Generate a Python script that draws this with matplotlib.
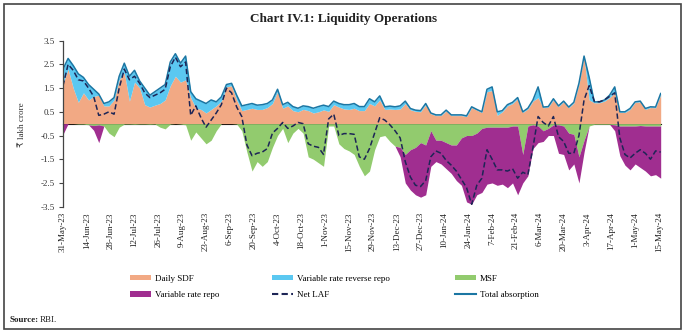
import numpy as np
import pandas as pd
import matplotlib
matplotlib.use("Agg")
import matplotlib.pyplot as plt
import matplotlib.dates as mdates
from matplotlib.patches import Patch, Rectangle
from matplotlib.lines import Line2D

plt.rcParams['font.family'] = ['Liberation Serif', 'DejaVu Sans']

# ---- data (lakh crore), sampled every 3 days from 31-May-2023 ----
start_date = "2023-05-31"
n_points = 118
step_days = 3

daily_sdf = [
    1.7, 2.3, 1.5, 0.9, 1.3, 1.0, 1.15, 1.2, 0.75, 0.75,
    1.0, 1.85, 2.15, 0.95, 1.75, 1.5, 0.8, 0.7, 0.78, 0.85,
    1.0, 1.6, 2.0, 1.75, 1.85, 1.1, 0.65, 0.6, 0.45, 0.6,
    0.75, 0.95, 1.55, 1.6, 1.0, 0.55, 0.6, 0.65, 0.6, 0.6,
    0.68, 0.85, 1.35, 0.65, 0.75, 0.55, 0.5, 0.6, 0.55, 0.45,
    0.5, 0.58, 0.52, 0.8, 0.7, 0.62, 0.6, 0.65, 0.55, 0.55,
    0.85, 0.75, 1.0, 0.6, 0.62, 0.6, 0.62, 0.85, 0.58, 0.52,
    0.5, 0.8, 0.42, 0.34, 0.34, 0.54, 0.34, 0.34, 0.34, 0.3,
    0.68, 0.57, 0.47, 1.35, 1.4, 0.35, 0.5, 0.75, 0.85, 1.05,
    0.47, 0.62, 0.95, 1.1, 0.67, 0.7, 1.0, 0.72, 0.92, 0.67,
    0.87, 1.65, 2.8, 1.0, 0.88, 0.88, 0.95, 1.1, 1.3, 0.47,
    0.47, 0.6, 0.9, 0.92, 0.6, 0.68, 0.67, 1.22]

vrrr = [
    0.6, 0.45, 0.95, 1.2, 0.65, 0.65, 0.3, 0.05, 0.1, 0.17,
    0.1, 0.15, 0.4, 1.05, 0.5, 0.3, 0.7, 0.5, 0.57, 0.65,
    0.65, 1.0, 0.95, 0.8, 1.0, 0.25, 0.4, 0.35, 0.4, 0.4,
    0.17, 0.18, 0.1, 0.1, 0.2, 0.2, 0.2, 0.2, 0.18, 0.2,
    0.17, 0.15, 0.1, 0.15, 0.15, 0.17, 0.15, 0.15, 0.17, 0.2,
    0.22, 0.2, 0.2, 0.15, 0.15, 0.18, 0.2, 0.2, 0.17, 0.17,
    0.2, 0.17, 0.17, 0.11, 0.12, 0.11, 0.13, 0.1, 0.06, 0.05,
    0.05, 0.05, 0.03, 0.03, 0.03, 0.03, 0.03, 0.03, 0.03, 0.03,
    0.03, 0.03, 0.03, 0.1, 0.15, 0.15, 0.05, 0.05, 0.05, 0.05,
    0.03, 0.03, 0.05, 0.45, 0.03, 0.02, 0.05, 0.03, 0.03, 0.03,
    0.03, 0.05, 0.05, 0.95, 0.04, 0.04, 0.05, 0.1, 0.25, 0.03,
    0.03, 0.04, 0.02, 0.03, 0.04, 0.03, 0.03, 0.05]

msf = [
    0, 0, 0, -0.02, -0.02, -0.05, -0.08, -0.05, -0.1, -0.4,
    -0.55, -0.15, -0.02, -0.02, -0.03, -0.02, -0.02, -0.03, -0.02, -0.15,
    -0.22, -0.02, 0, -0.02, -0.05, -0.7, -0.35, -0.6, -0.85, -0.7,
    -0.3, 0, 0, 0, -0.02, -0.3, -1.2, -2.0, -1.6, -1.8,
    -1.6, -1.0, -0.5, -0.2, -0.8, -0.4, -0.2, -0.4, -1.4, -1.5,
    -1.65, -1.8, -0.1, -0.1, -0.85, -1.05, -1.15, -1.3, -1.8, -2.2,
    -2.0, -1.1, -0.55, -0.5, -0.75, -0.95, -1.0, -1.3, -1.1, -1.0,
    -0.8, -0.9, -0.3, -0.7, -0.7, -0.8, -0.9, -0.9, -0.6, -0.5,
    -0.5, -0.4, -0.2, -0.15, -0.15, -0.15, -0.15, -0.15, -0.1, -0.1,
    -1.3, -0.1, -0.05, -0.1, -0.3, -0.2, -0.05, -0.05, -0.1, -0.4,
    -0.45, -1.4, -0.7, -0.1, -0.03, -0.03, -0.03, -0.03, -0.05, -0.1,
    -0.1, -0.1, -0.1, -0.08, -0.1, -0.1, -0.1, -0.1]

vrr = [
    -0.45, 0, 0, 0, 0, 0, -0.2, -0.75, 0, 0,
    0, 0, 0, 0, 0, 0, 0, 0, 0, 0,
    0, 0, 0, 0, 0, 0, 0, 0, 0, 0,
    0, 0, 0, 0, 0, 0, 0, 0, 0, 0,
    0, 0, 0, 0, 0, 0, 0, 0, 0, 0,
    0, 0, 0, 0, 0, 0, 0, 0, 0, 0,
    0, 0, 0, 0, 0, 0, -0.4, -1.2, -1.7, -2.0,
    -2.3, -2.1, -1.5, -0.9, -1.0, -1.1, -1.2, -1.5, -2.0, -2.8,
    -2.9, -2.6, -2.7, -2.4, -2.35, -2.45, -2.4, -2.55, -2.4, -2.9,
    -1.2, -2.1, -1.0, -0.7, -0.45, -0.3, -0.45, -1.2, -1.2, -1.55,
    -1.25, -1.1, -0.5, 0, 0, 0, 0, 0, -0.25, -1.25,
    -1.65, -1.85, -1.6, -1.77, -1.9, -2.1, -2.05, -2.2]

net_laf = [
    1.6, 2.5, 2.25, 1.85, 1.8, 1.5, 1.15, 0.35, 0.4, 0.5,
    0.4, 1.5, 2.3, 1.85, 2.0, 1.7, 1.3, 1.1, 1.2, 1.3,
    1.45, 2.4, 2.8, 2.4, 2.6, 0.35, 0.75, 0.25, -0.15, 0.15,
    0.45, 0.8, 1.5, 1.3, 0.7, 0.3, -0.9, -1.35, -1.25, -1.2,
    -1.05, -0.4, -0.2, 0.05, -0.2, -0.1, 0.05, 0.0, -0.85, -0.95,
    -1.0, -1.3, 0.2, 0.4, -0.5, -0.42, -0.42, -0.45, -1.4, -1.5,
    -1.05, -0.4, 0.25, 0.15, -0.05, -0.3, -0.6, -1.6, -2.25, -2.6,
    -2.65, -2.4, -1.4, -1.15, -1.25, -1.55, -1.75, -2.0, -2.35, -2.7,
    -3.4, -2.6, -2.3, -1.1, -1.5, -1.95, -1.95, -2.0, -1.9, -2.3,
    -2.05, -2.15, -1.0, 0.3, 0.05, -0.1, 0.3, -0.55, -0.75, -1.25,
    -1.25, -0.5, 1.0, 1.6, 0.95, 0.92, 1.0, 1.15, 1.3, -0.6,
    -1.3, -1.45, -1.25, -1.1, -1.25, -1.5, -1.15, -1.2]

tick_labels = ["31-May-23", "14-Jun-23", "28-Jun-23", "12-Jul-23", "26-Jul-23",
               "9-Aug-23", "23-Aug-23", "6-Sep-23", "20-Sep-23", "4-Oct-23",
               "18-Oct-23", "1-Nov-23", "15-Nov-23", "29-Nov-23", "13-Dec-23",
               "27-Dec-23", "10-Jan-24", "24-Jan-24", "7-Feb-24", "21-Feb-24",
               "6-Mar-24", "20-Mar-24", "3-Apr-24", "17-Apr-24", "1-May-24",
               "15-May-24"]
y_ticks = [3.5, 2.5, 1.5, 0.5, -0.5, -1.5, -2.5, -3.5]

# ---- derived ----
dates = pd.date_range(start_date, periods=n_points, freq=f"{step_days}D")
x = mdates.date2num(dates.to_pydatetime())
sdf_a = np.array(daily_sdf)
vrrr_a = np.array(vrrr)
msf_a = np.array(msf)
vrr_a = np.array(vrr)
total_abs = sdf_a + vrrr_a
tick_x = mdates.date2num(pd.to_datetime(tick_labels, format="%d-%b-%y").to_pydatetime())

c_sdf = "#F2A984"
c_vrrr = "#5BC8F1"
c_msf = "#92CB6E"
c_vrr = "#A02E90"
c_total = "#1B76A3"
c_net = "#1D2556"

fig = plt.figure(figsize=(6.87, 3.36), dpi=100)
ax = fig.add_axes([0.0917, 0.385, 0.870, 0.494])

ax.fill_between(x, 0, sdf_a, color=c_sdf, lw=0)
ax.fill_between(x, sdf_a, total_abs, color=c_vrrr, lw=0)
ax.fill_between(x, 0, msf_a, color=c_msf, lw=0)
ax.fill_between(x, msf_a, msf_a + vrr_a, color=c_vrr, lw=0)
ax.plot(x, total_abs, color=c_total, lw=1.1)
ax.plot(x, net_laf, color=c_net, lw=1.1, dashes=(3.5, 1.8))

ax.set_xlim(x[0], x[-1])
ax.set_ylim(-3.5, 3.5)
ax.set_yticks(y_ticks)
ax.set_yticklabels([f"{v:g}" for v in y_ticks], fontsize=6.5, color="#333333")
ax.set_xticks(tick_x)
ax.set_xticklabels(tick_labels, rotation=90, fontsize=6.5, color="#222222")
ax.tick_params(axis='x', length=0, pad=4)
ax.tick_params(axis='y', length=3, width=0.8, color="#444444", pad=3)
for s in ['top', 'right', 'bottom']:
    ax.spines[s].set_visible(False)
ax.spines['left'].set_color("#444444")
ax.spines['left'].set_linewidth(0.9)

sec = ax.secondary_xaxis(0.5)
sec.set_xticks(tick_x)
sec.set_xticklabels([])
sec.tick_params(length=2.5, width=0.7, color="#333333", direction='out')
sec.spines['bottom'].set_color("black")
sec.spines['bottom'].set_linewidth(0.9)

fig.text(0.032, 0.628, "₹ lakh crore", rotation=90, ha='center', va='center',
         fontsize=6.5, color="#333333")

fig.text(0.5, 0.944, "Chart IV.1: Liquidity Operations", ha='center', va='center',
         fontsize=9.5, fontweight='bold', color="#222222")

# legends (three columns)
h_sdf = Patch(facecolor=c_sdf, edgecolor='none')
h_vrrr = Patch(facecolor=c_vrrr, edgecolor='none')
h_msf = Patch(facecolor=c_msf, edgecolor='none')
h_vrr = Patch(facecolor=c_vrr, edgecolor='none')
h_net = Line2D([], [], color=c_net, lw=1.5, dashes=(3, 1.6))
h_tot = Line2D([], [], color=c_total, lw=1.5)
cols = [([h_sdf, h_vrr], ["Daily SDF", "Variable rate repo"], 130),
        ([h_vrrr, h_net], ["Variable rate reverse repo", "Net LAF"], 272),
        ([h_msf, h_tot], ["MSF", "Total absorption"], 455)]
for hs, ls, px in cols:
    fig.legend(hs, ls, loc='upper left', bbox_to_anchor=(px / 687, 0.183),
               frameon=False, fontsize=6.5, borderpad=0, borderaxespad=0,
               handlelength=2.3, handleheight=0.6, handletextpad=0.45,
               labelspacing=0.95)

fig.text(0.0146, 0.048, "Source:", fontsize=6.5, fontweight='bold', va='center',
         color="#222222")
fig.text(0.0146 + 0.043, 0.048, "RBI.", fontsize=6.5, va='center', color="#222222")

fig.patches.append(Rectangle((0.006, 0.021), 0.985, 0.967, transform=fig.transFigure,
                             fill=False, edgecolor="#444444", lw=1.2))

fig.savefig("out.png", dpi=100)
